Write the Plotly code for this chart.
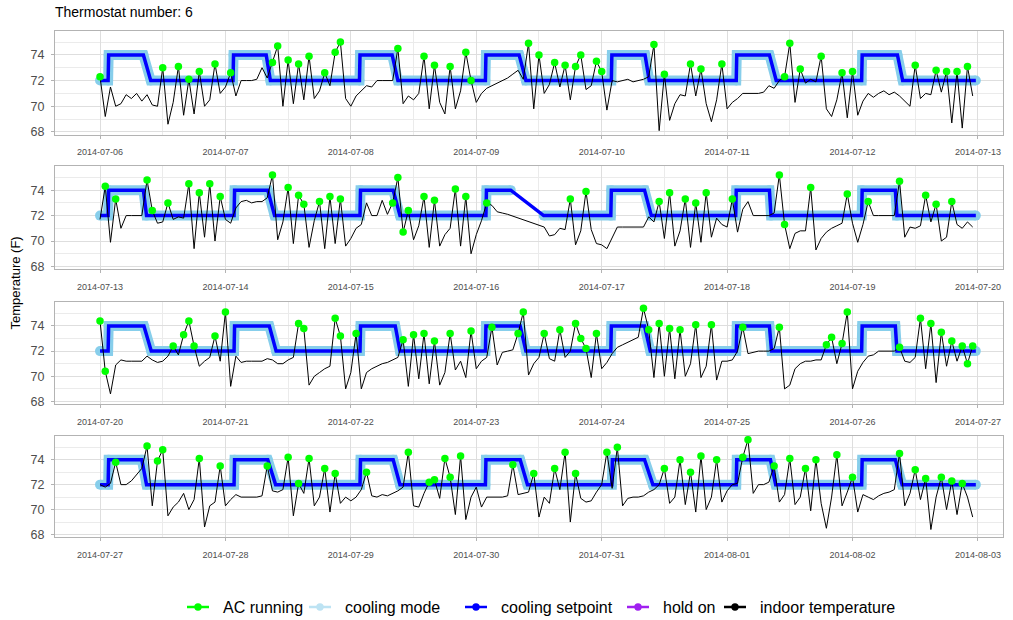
import pandas as pd
import plotly.graph_objects as go

# ---------------- data ----------------
week_starts = ["2014-07-06", "2014-07-13", "2014-07-20", "2014-07-27"]

# indoor temperature, hourly values, one list per day (None = no data)
temp_w1 = [
    [72.3, 69.2, 71.5, 70.0, 70.2, 70.9, 70.6, 71.0, 70.4, 70.9, 70.1, 70.0, 73.0, 68.6, 70.3, 73.1, 69.3, 72.1, 69.4, 72.7, 70.0, 70.5, 73.3, 71.0],
    [71.5, 72.6, 70.8, 72.0, 72.0, 72.0, 72.1, 73.0, 72.2, 73.4, 74.7, 70.0, 73.6, 70.2, 73.3, 70.5, 73.9, 70.6, 71.2, 72.6, 71.6, 74.2, 75.0, 70.6],
    [70.0, 70.8, 71.2, 71.6, 71.5, 72.0, 72.0, 72.0, 72.0, 74.5, 70.2, 70.8, 70.5, 71.0, 73.9, 69.8, 73.2, 70.3, 69.4, 73.1, 69.8, 71.2, 74.2, 72.0],
    [70.3, 71.0, 71.4, 71.6, 71.8, 72.0, 72.2, 72.5, 72.8, 72.1, 74.9, 69.8, 74.0, 71.0, 71.7, 73.4, 71.5, 73.2, 70.5, 73.1, 74.0, 71.3, 71.6, 73.5],
    [72.7, 69.7, 72.0, 71.9, 72.0, 72.1, 71.9, 72.0, 72.1, 72.3, 74.8, 68.1, 72.5, 68.9, 70.2, 70.9, 70.8, 73.3, 70.8, 72.9, 70.2, 68.8, 70.5, 73.3],
    [69.8, 70.3, 70.6, 71.0, 71.0, 71.0, 71.0, 71.1, 71.6, 71.4, 72.0, 72.3, 74.9, 70.3, 72.9, 71.8, 72.1, 71.9, 73.9, 69.8, 69.2, 70.5, 72.6, 69.1],
    [72.7, 69.3, 70.4, 71.0, 70.7, 71.0, 71.2, 70.9, 71.1, 70.8, 70.4, 70.0, 73.2, 70.6, 71.0, 70.9, 72.8, 71.1, 72.7, 68.7, 72.7, 68.3, 73.1, 70.8],
]
temp_w2 = [
    [71.7, 74.3, 69.9, 73.3, 71.0, 72.0, 72.0, 72.0, 72.0, 74.8, 72.4, 71.4, 71.5, 73.0, 71.7, 71.9, 71.8, 74.5, 69.4, 73.8, 70.3, 74.5, 70.0, 73.5],
    [71.7, 71.4, 72.6, 73.1, 73.2, 73.0, 73.1, 73.1, 73.4, 75.2, 70.1, 71.5, 74.2, 69.8, 73.6, 72.9, 69.5, 71.6, 73.1, 69.4, 73.5, 69.8, 73.3, 69.6],
    [70.2, 71.0, 71.3, 73.0, 72.0, 72.0, 73.2, 72.1, 73.0, 75.0, 70.7, 72.4, 70.1, 71.2, 73.5, 69.5, 73.2, 69.6, 70.5, 71.0, 74.1, 69.6, 73.5, 69.0],
    [70.5, 71.6, 73.0, 72.8, 72.3, 72.2, 72.1, None, None, None, None, None, None, 71.1, 70.4, 70.5, 71.0, 70.9, 73.3, 69.7, 70.8, 73.9, 70.9, 69.8],
    [69.7, 69.4, 70.3, 71.1, 71.1, 71.1, 71.1, 71.1, 71.1, 71.9, 71.5, 73.1, 70.2, 73.8, 69.6, 70.8, 73.3, 69.5, 73.0, 69.9, 73.8, 70.3, 71.8, 71.3],
    [71.1, 73.3, 70.7, 72.5, 73.1, 72.0, 72.0, 72.0, 72.0, 72.2, 75.2, 71.3, 69.4, 70.6, 70.8, 70.8, 74.2, 69.3, 70.2, 70.7, 71.0, 71.2, 71.4, 73.7],
    [71.4, 69.9, 71.3, 73.1, 72.0, 72.0, 72.0, 72.0, 72.0, 74.7, 70.3, 71.1, 71.0, 71.2, 73.6, 71.5, 72.9, 70.0, 70.3, 73.1, 71.3, 71.0, 71.5, 71.1],
]
temp_w3 = [
    [74.4, 70.4, 68.6, 70.9, 71.3, 71.2, 71.2, 71.2, 71.2, 71.6, 71.3, 71.1, 71.2, 71.6, 72.4, 71.7, 73.3, 74.4, 72.4, 70.8, 71.2, 71.5, 73.2, 71.2],
    [75.1, 69.2, 71.6, 71.1, 71.2, 71.2, 71.2, 71.2, 71.4, 71.3, 71.0, 71.0, 71.3, 71.5, 74.2, 73.8, 69.3, 70.0, 70.3, 70.6, 70.8, 74.6, 73.2, 69.0],
    [70.3, 73.4, 69.0, 70.3, 70.6, 70.8, 71.0, 71.1, 71.3, 71.5, 72.9, 69.2, 73.3, 69.8, 73.4, 69.4, 72.8, 69.3, 70.3, 73.4, 70.5, 71.2, 69.9, 73.6],
    [70.6, 71.2, 71.5, 73.9, 70.9, 71.9, 72.0, 72.1, 73.4, 75.1, 70.1, 71.0, 71.5, 73.4, 71.4, 71.2, 73.7, 71.5, 72.0, 74.2, 73.0, 72.2, 69.9, 73.4],
    [70.6, 71.1, 71.8, 72.3, 72.5, 72.7, 72.9, 73.1, 75.4, 73.7, 69.9, 74.2, 70.0, 73.8, 69.8, 73.7, 70.0, 71.0, 74.1, 69.9, 70.8, 74.1, 69.7, 71.2],
    [71.2, 71.3, 72.0, 73.9, 71.8, 71.9, 72.0, 72.0, 72.0, 72.2, 73.9, 69.0, 69.3, 70.6, 71.0, 71.2, 71.2, 71.3, 71.3, 72.5, 73.1, 71.0, 72.6, 75.1],
    [69.0, 70.4, 71.1, 71.6, 71.7, 72.0, 72.0, 72.0, 72.0, 72.3, 71.2, 71.1, 71.5, 74.6, 70.6, 74.2, 69.5, 73.5, 70.8, 72.8, 71.2, 72.4, 71.0, 72.4],
]
temp_w4 = [
    [72.0, 71.8, 72.1, 73.8, 72.0, 72.0, 72.3, 72.8, 73.3, 75.1, 70.3, 73.9, 74.8, 69.5, 70.2, 70.6, 71.3, 70.0, 70.8, 74.1, 68.6, 70.3, 70.6, 73.5],
    [70.3, 70.8, 71.2, 71.0, 71.0, 71.0, 71.0, 71.1, 73.5, 71.5, 71.4, 71.6, 74.2, 69.5, 72.1, 71.3, 74.1, 70.3, 71.0, 73.3, 69.8, 72.9, 70.5, 71.0],
    [70.7, 71.0, 71.6, 73.0, 71.1, 71.0, 71.2, 71.1, 71.3, 71.5, 71.8, 74.6, 70.3, 70.2, 71.3, 72.2, 72.4, 70.9, 74.1, 72.6, 69.6, 74.3, 69.2, 71.0],
    [71.8, 70.2, 71.0, 71.0, 71.0, 71.0, 71.1, 73.6, 71.2, 71.3, 71.4, 72.9, 69.4, 71.0, 70.5, 73.3, 71.6, 74.6, 69.0, 72.9, 70.9, 70.6, 70.7, 71.4],
    [72.0, 74.6, 71.7, 75.0, 70.3, 70.9, 71.0, 71.0, 71.1, 71.4, 71.6, 72.0, 73.3, 70.5, 71.0, 74.0, 70.4, 73.0, 69.8, 74.3, 70.0, 71.0, 74.0, 70.6],
    [71.5, 72.0, 72.1, 74.2, 75.6, 71.3, 72.0, 72.0, 72.2, 73.5, 70.6, 71.2, 74.1, 70.4, 71.0, 73.3, 69.9, 74.0, 70.5, 68.5, 71.0, 74.4, 70.3, 71.4],
    [72.6, 69.8, 71.2, 71.0, 70.8, 71.1, 71.3, 71.4, 71.6, 74.5, 70.3, 71.3, 73.2, 70.8, 72.5, 68.4, 71.0, 72.6, 70.0, 72.3, 69.6, 72.1, 71.0, 69.4],
]

# hours of each day at which the AC was seen running
ac_w1 = [[0, 12, 15, 17, 19, 22], [1, 9, 10, 12, 14, 16, 19, 21, 22], [9, 14, 16, 19, 22, 23],
         [10, 12, 15, 17, 19, 20, 23], [0, 10, 12, 17, 19, 23], [11, 12, 14, 18, 22], [0, 12, 16, 18, 20, 22]]
ac_w2 = [[1, 3, 9, 10, 13, 17, 19, 21, 23], [9, 12, 14, 15, 18, 20, 22], [8, 9, 10, 11, 14, 16, 20, 22],
         [2, 18, 21], [11, 13, 16, 18, 20], [1, 10, 11, 16, 23], [3, 9, 14, 16, 19]]
ac_w3 = [[0, 1, 14, 16, 17, 18, 22], [0, 14, 15, 21, 22], [1, 10, 12, 14, 16, 19, 23],
         [3, 8, 9, 13, 16, 19, 20, 21, 23], [8, 9, 11, 13, 15, 18, 21], [3, 10, 19, 20, 22, 23],
         [9, 13, 15, 17, 19, 21, 22, 23]]
ac_w4 = [[3, 9, 11, 12, 19, 23], [8, 12, 14, 16, 19, 21], [3, 11, 15, 16, 18, 19, 21],
         [7, 11, 15, 17, 19], [1, 3, 12, 15, 17, 19, 22], [3, 4, 9, 12, 15, 17, 21], [0, 9, 12, 14, 17, 19, 21]]

# cooling setpoint schedule (hour of day): rise to high, start of fall, end of fall
sp_low, sp_high = 72, 74
sp_rise = [[1.6, 1.5, 1.7, 1.8, 1.9, 1.8, 1.8], [1.6, 1.7, 1.8, 1.9, 1.8, 1.7, 1.8],
           [1.6, 1.7, 1.8, 1.8, 1.8, 1.8, 1.8], [1.6, 1.7, 1.8, 1.8, 2.0, 1.8, 1.8]]
sp_fall_start = [[8.3, 7.8, 7.9, 8.2, 8.3, 8.1, 8.6], [8.3, 8.1, 8.1, 6.6, 8.2, 8.1, 8.2],
                 [8.4, 8.4, 8.5, 8.4, 8.2, 8.1, 8.2], [8.0, 8.1, 8.1, 8.4, 8.2, 8.3, 8.2]]
sp_fall_end = [[9.7, 8.6, 9.0, 9.5, 9.1, 9.4, 9.6], [8.9, 9.4, 9.4, 12.9, 9.5, 8.4, 8.5],
               [9.8, 9.7, 9.4, 9.5, 9.3, 8.5, 8.5], [8.9, 9.6, 9.4, 9.8, 9.8, 9.3, 9.5]]
sp_last_hour = 167.6
# hours of each week (from week start) with no cooling-mode record
mode_gaps = [[], [(78.6, 84.9)], [], []]

legend_names = ["AC running", "cooling mode", "cooling setpoint", "hold on", "indoor temperature"]

temps = [temp_w1, temp_w2, temp_w3, temp_w4]
acs = [ac_w1, ac_w2, ac_w3, ac_w4]

# ---------------- styling ----------------
C_AC = "#00FF00"
C_MODE = "#87CEEB"
C_SP = "#0000FF"
C_HOLD = "#A020F0"
C_IN = "#000000"
GRID = "#DEDEDE"
BORDER = "#B3B3B3"
FONT = "Liberation Sans, Arial, sans-serif"

W, H = 1013, 620
ML, MR, MT, MB = 55, 10, 30, 83
plot_w = W - ML - MR
plot_h = H - MT - MB
panels_px = [(30.5, 134.5), (166, 269), (302, 404), (436, 537)]


def ydom(top, bot):
    return [1 - (bot - MT) / plot_h, 1 - (top - MT) / plot_h]


def px_x(px):
    return (px - ML) / plot_w


def px_y(py):
    return (H - MB - py) / plot_h


def ts(t0, h):
    return (t0 + pd.Timedelta(hours=h)).strftime("%Y-%m-%d %H:%M:%S")


fig = go.Figure()
layout_axes = {}

for w in range(4):
    t0 = pd.Timestamp(week_starts[w])
    xa = "x" if w == 0 else f"x{w+1}"
    ya = "y" if w == 0 else f"y{w+1}"

    # indoor temperature
    hrs, vals = [], []
    for d, day in enumerate(temps[w]):
        for h, v in enumerate(day):
            hrs.append(d * 24 + h)
            vals.append(v)
    # setpoint vertices
    sh, sv = [0.0], [sp_low]
    for d in range(7):
        b = d * 24
        sh += [b + sp_rise[w][d] - 0.05, b + sp_rise[w][d] + 0.05, b + sp_fall_start[w][d], b + sp_fall_end[w][d]]
        sv += [sp_low, sp_high, sp_high, sp_low]
    sh.append(sp_last_hour)
    sv.append(sp_low)

    # cooling mode: setpoint where mode is recorded
    mh, mv = [], []
    for hh, vv in zip(sh, sv):
        if any(a < hh < b for a, b in mode_gaps[w]):
            continue
        if mh and mh[-1] is not None:
            prev = mh[-1]
            if any(prev <= a and hh >= b for a, b in mode_gaps[w]):
                mh.append(None)
                mv.append(None)
        mh.append(hh)
        mv.append(vv)
    mx = [ts(t0, h) if h is not None else None for h in mh]

    fig.add_trace(go.Scatter(x=mx, y=mv, mode="lines+markers", xaxis=xa, yaxis=ya,
                             line=dict(color=C_MODE, width=10), marker=dict(color=C_MODE, size=10),
                             connectgaps=False, showlegend=False, hoverinfo="skip", name=legend_names[1]))
    fig.add_trace(go.Scatter(x=[ts(t0, h) for h in sh], y=sv, mode="lines", xaxis=xa, yaxis=ya,
                             line=dict(color=C_SP, width=3.5), showlegend=False, hoverinfo="skip",
                             name=legend_names[2]))
    fig.add_trace(go.Scatter(x=[ts(t0, h) for h in hrs], y=vals, mode="lines", xaxis=xa, yaxis=ya,
                             line=dict(color=C_IN, width=1), connectgaps=True, showlegend=False,
                             name=legend_names[4]))
    ah, av = [], []
    for d, hours in enumerate(acs[w]):
        for h in hours:
            v = temps[w][d][h]
            if v is not None:
                ah.append(d * 24 + h)
                av.append(v)
    fig.add_trace(go.Scatter(x=[ts(t0, h) for h in ah], y=av, mode="markers", xaxis=xa, yaxis=ya,
                             marker=dict(color=C_AC, size=7.5), showlegend=False, name=legend_names[0]))

    x_lo = (t0 - pd.Timedelta(hours=0.359 * 24)).strftime("%Y-%m-%d %H:%M:%S")
    x_hi = (t0 + pd.Timedelta(hours=7.2 * 24)).strftime("%Y-%m-%d %H:%M:%S")
    xkey = "xaxis" if w == 0 else f"xaxis{w+1}"
    ykey = "yaxis" if w == 0 else f"yaxis{w+1}"
    layout_axes[xkey] = dict(
        domain=[0, 1], anchor=ya, type="date", range=[x_lo, x_hi],
        tick0=week_starts[w], dtick=86400000, tickformat="%Y-%m-%d",
        tickfont=dict(size=9, color="#4D4D4D", family=FONT),
        ticks="outside", ticklen=3, tickcolor=BORDER, ticklabelstandoff=6,
        showgrid=True, gridcolor=GRID, gridwidth=1,
        minor=dict(dtick=43200000, showgrid=True, gridcolor="#EBEBEB", gridwidth=0.6, ticks=""),
        showline=True, linecolor=BORDER, linewidth=1, mirror=True, zeroline=False,
    )
    layout_axes[ykey] = dict(
        domain=ydom(*panels_px[w]), anchor=xa, range=[67.8, 75.9],
        tick0=68, dtick=2, tickfont=dict(size=12.5, color="#4D4D4D", family=FONT),
        ticks="outside", ticklen=3, tickcolor=BORDER, ticklabelstandoff=4,
        showgrid=True, gridcolor=GRID, gridwidth=1,
        minor=dict(dtick=1, showgrid=True, gridcolor="#EBEBEB", gridwidth=0.6, ticks=""),
        showline=True, linecolor=BORDER, linewidth=1, mirror=True, zeroline=False,
    )

# ---------------- legend drawn below the panels ----------------
legend_colors = [C_AC, "#BDE3F3", C_SP, C_HOLD, C_IN]
legend_key_px = [198, 320, 476, 638, 735]   # key centres (px)
legend_y_px = 607
shapes = []
annotations = []
ly = px_y(legend_y_px)
for name, col, cx in zip(legend_names, legend_colors, legend_key_px):
    xc = px_x(cx)
    shapes.append(dict(type="line", xref="paper", yref="paper", xsizemode="pixel", ysizemode="pixel",
                       xanchor=xc, yanchor=ly, x0=-11, x1=11, y0=0, y1=0,
                       line=dict(color=col, width=2.5)))
    shapes.append(dict(type="circle", xref="paper", yref="paper", xsizemode="pixel", ysizemode="pixel",
                       xanchor=xc, yanchor=ly, x0=-3.7, x1=3.7, y0=-3.7, y1=3.7,
                       fillcolor=col, line=dict(color=col, width=0)))
    annotations.append(dict(text=name, xref="paper", yref="paper", x=px_x(cx + 23), y=ly,
                            xanchor="left", yanchor="middle", showarrow=False,
                            font=dict(size=16, color="#000000", family=FONT)))

annotations.append(dict(text="Temperature (F)", textangle=-90, xref="paper", yref="paper",
                        x=px_x(15), y=0.5, xanchor="center", yanchor="middle",
                        showarrow=False, font=dict(size=13, color="#000000", family=FONT)))

fig.update_layout(
    width=W, height=H, autosize=False,
    margin=dict(l=ML, r=MR, t=MT, b=MB),
    paper_bgcolor="white", plot_bgcolor="white",
    font=dict(family=FONT, color="#000000"),
    title=dict(text="Thermostat number: 6", x=ML / W, xanchor="left", xref="container",
               y=1 - 12 / H, yanchor="middle", yref="container",
               font=dict(size=14, color="#000000", family=FONT)),
    showlegend=False,
    shapes=shapes,
    annotations=annotations,
    **layout_axes,
)

fig.write_html("out.html")
